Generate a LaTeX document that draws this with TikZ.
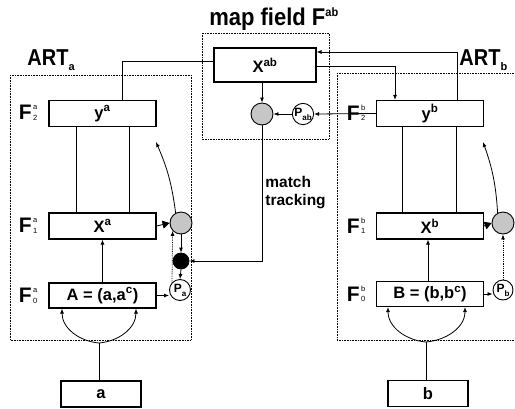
\documentclass[tikz,border=0pt]{standalone}
\usepackage{fontspec}
\setmainfont{Liberation Sans}
\usetikzlibrary{arrows.meta,calc}
\newcommand{\Flab}[2]{F\kern1.5pt\rlap{\raisebox{10pt}{\fontsize{7.5}{7.5}\selectfont\mdseries #1}}\raisebox{-0.5pt}{\fontsize{7.5}{7.5}\selectfont\mdseries #2}}
\begin{document}
\begin{tikzpicture}[x=1pt,y=-1pt,
  >={Latex[length=5pt,width=4pt]},
  line width=0.8pt,
  box/.style={draw,line width=1.1pt,minimum width=107pt,minimum height=26pt,inner sep=0pt,font=\fontsize{16.5}{16.5}\selectfont\bfseries},
  inbox/.style={box,minimum width=80pt},
  region/.style={draw,densely dotted,line width=0.6pt},
  gcirc/.style={circle,draw,line width=0.9pt,fill=gray!45,minimum size=22pt,inner sep=0pt},
  bcirc/.style={circle,draw,fill=black,minimum size=16pt,inner sep=0pt},
  pcirc/.style={circle,draw,line width=0.9pt,fill=white,minimum size=21pt,inner sep=0pt,font=\fontsize{12}{12}\selectfont\bfseries},
  flab/.style={font=\fontsize{21}{21}\selectfont\bfseries,inner sep=0pt},
  artlab/.style={font=\fontsize{20}{20}\selectfont\bfseries,inner sep=0pt,anchor=base west},
  big/.style={-{Triangle[length=7pt,width=8pt]}}
]
\useasboundingbox (0,0) rectangle (515,408);
% regions
\draw[region] (10,75) rectangle (191,340);
\draw[region] (337,73) rectangle (520,340);
\draw[region] (202,33) rectangle (329,139);
% titles
\node[font=\fontsize{22}{22}\selectfont\bfseries,inner sep=0pt] (title) at (274,19) {\scalebox{1}[1.1]{map field F\textsuperscript{\fontsize{11}{11}\selectfont ab}}};
\node[artlab] (arta) at (27,65) {\scalebox{1}[1.15]{ART}\raisebox{-5pt}{\fontsize{11}{11}\selectfont\bfseries a}};
\node[artlab] (artb) at (459,65) {\scalebox{1}[1.15]{ART}\raisebox{-5pt}{\fontsize{11}{11}\selectfont\bfseries b}};
% boxes
\node[box,minimum width=102pt,minimum height=34pt] (xab) at (265,65) {X\textsuperscript{ab}};
\node[box] (ya) at (102.5,113.5) {y\textsuperscript{a}};
\node[box] (xa) at (102.5,226) {X\textsuperscript{a}};
\node[box,minimum height=25pt] (A) at (102.5,295.5) {A = (a,a\textsuperscript{c})};
\node[inbox] (a) at (101,394) {a};
\node[box] (yb) at (430,113.5) {y\textsuperscript{b}};
\node[box] (xb) at (430,226) {X\textsuperscript{b}};
\node[box,minimum height=25pt] (B) at (430,294) {B = (b,b\textsuperscript{c})};
\node[inbox] (b) at (428,393.5) {b};
% F labels
\node[flab] (fa2) at (28,113) {\Flab{a}{2}};
\node[flab] (fa1) at (28,226) {\Flab{a}{1}};
\node[flab] (fa0) at (28,296) {\Flab{a}{0}};
% circles
\node[gcirc] (ga) at (181,223) {};
\node[bcirc] (ka) at (181,261) {};
\node[pcirc] (pa) at (180,290) {P\raisebox{-4pt}{\fontsize{8}{8}\selectfont a}};
\node[gcirc] (gab) at (262,114) {};
\node[pcirc,minimum size=20pt] (pab) at (303,114) {P\raisebox{-4pt}{\fontsize{8}{8}\selectfont ab}};
\node[gcirc] (gb) at (503,223) {};
\node[pcirc,minimum size=20pt] (pb) at (503,290) {P\raisebox{-4pt}{\fontsize{8}{8}\selectfont b}};
% map field connections
\draw ([yshift=4pt]xab.west) -| ([xshift=19.5pt]ya.north);
\draw[->] ([yshift=-1pt]xab.east) -| ([xshift=-35pt]yb.north);
\draw[->] ([xshift=27pt]yb.north) |- ([yshift=13pt]xab.east);
\draw[->] (yb.west) -- (pab.east);
\node[flab] (fb2) at (356,113) {\Flab{b}{2}};
\node[flab] (fb1) at (356,226) {\Flab{b}{1}};
\node[flab] (fb0) at (356,294) {\Flab{b}{0}};
\draw[->] (pab.west) -- (gab.east);
\draw[->] (xab.south -| gab) -- (gab.north);
\draw[->] (gab.south) |- (ka.east);
\node[anchor=north west,align=left,inner sep=0pt,font=\fontsize{15.5}{18}\selectfont\bfseries] (mt) at (265,176) {match\\tracking};
% ART a internals
\draw ([xshift=-26.5pt]ya.south) -- ([xshift=-26.5pt]xa.north);
\draw ([xshift=26.5pt]ya.south) -- ([xshift=26.5pt]xa.north);
\draw[->] (A.north) -- (xa.south);
\draw[big] (xa.east) -- (ga.west);
\draw[->] (A.east) -- (A.east -| pa.west);
\draw[->] (ga.south) -- (ka.north);
\draw[->] (ka.south) -- (pa.north);
\draw[->,densely dotted] (pa.137) -- (ga.223);
\coordinate (ta) at (156,142);
\draw[->] (ga.118) to[bend right=8] (ta);
\coordinate (ja) at (99,343);
\draw[->] (ja) to[out=175,in=-90] ([xshift=-40.5pt]A.south);
\draw[->] (ja) to[out=5,in=-90] ([xshift=33.5pt]A.south);
\draw (a.north -| ja) -- (ja);
% ART b internals
\draw ([xshift=-28pt]yb.south) -- ([xshift=-28pt]xb.north);
\draw ([xshift=26pt]yb.south) -- ([xshift=26pt]xb.north);
\draw[->] ([xshift=-2pt]B.north) -- ([xshift=-2pt]xb.south);
\draw[big] (xb.east) -- (gb.west);
\draw[->] (B.east) -- (B.east -| pb.west);
\draw[->,densely dotted] (pb.north) -- (gb.south);
\coordinate (tb) at (483,142);
\draw[->] (gb.118) to[bend right=8] (tb);
\coordinate (jb) at (426,342);
\draw[->] (jb) to[out=175,in=-90] ([xshift=-42pt]B.south);
\draw[->] (jb) to[out=5,in=-90] ([xshift=35pt]B.south);
\draw (b.north -| jb) -- (jb);
\end{tikzpicture}
\end{document}
